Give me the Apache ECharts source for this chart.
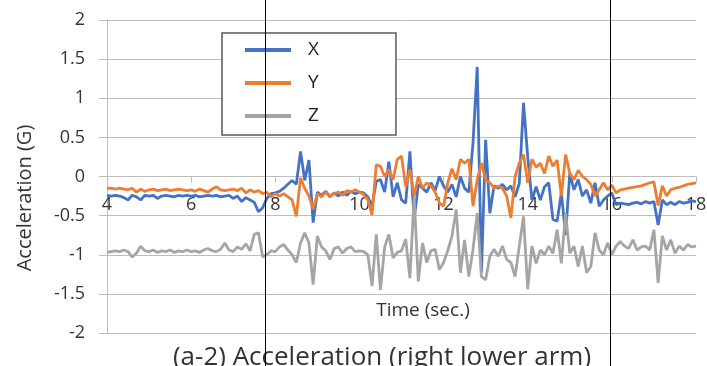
<!DOCTYPE html>
<html>
<head>
<meta charset="utf-8">
<script src="https://cdn.jsdelivr.net/npm/echarts/dist/echarts.min.js"></script>
<style>
  html, body { margin: 0; padding: 0; background: #fff; }
  #main { width: 707px; height: 366px; }
</style>
</head>
<body>
<div id="main"></div>
<script>
// sampling of the recording (sec.)
const t0 = 4;
const dt = 0.1;

const seriesNames = ['X', 'Y', 'Z'];
const seriesColors = ['#4472C4', '#ED7D31', '#A5A5A5'];

// acceleration (G), one value per 0.1 s from 4.0 to 18.0
const accX = [
  -0.24, -0.25, -0.24, -0.25, -0.27, -0.30, -0.24, -0.26, -0.30, -0.24,
  -0.25, -0.24, -0.28, -0.25, -0.24, -0.25, -0.26, -0.24, -0.25, -0.24,
  -0.25, -0.24, -0.26, -0.25, -0.24, -0.25, -0.24, -0.26, -0.25, -0.24,
  -0.28, -0.25, -0.32, -0.27, -0.30, -0.33, -0.45, -0.40, -0.28, -0.22,
  -0.21, -0.19, -0.15, -0.10, -0.05, -0.10, 0.32, -0.05, 0.21, -0.59,
  -0.20, -0.24, -0.19, -0.26, -0.21, -0.25, -0.20, -0.24, -0.19, -0.22,
  -0.20, -0.21, -0.26, -0.38, -0.06, -0.04, -0.20, 0.19, -0.26, -0.08,
  -0.30, -0.34, 0.32, -0.55, -0.10, -0.15, -0.20, -0.08, -0.18, 0.00,
  -0.12, -0.20, -0.10, -0.26, 0.00, -0.15, -0.20, 0.43, 1.40, -1.23,
  0.47, -0.47, -0.12, -0.15, -0.10, -0.17, -0.12, -0.26, -0.09, 0.94,
  0.25, -0.30, -0.13, -0.30, -0.13, -0.08, -0.55, -0.57, -0.21, -0.75,
  0.04, -0.17, -0.04, -0.25, -0.17, -0.34, -0.08, -0.38, -0.30, -0.25,
  -0.21, -0.36, -0.34, -0.35, -0.36, -0.34, -0.33, -0.35, -0.32, -0.34,
  -0.32, -0.62, -0.30, -0.36, -0.33, -0.36, -0.32, -0.34, -0.33, -0.31,
  -0.32
];
const accY = [
  -0.15, -0.15, -0.16, -0.15, -0.16, -0.17, -0.15, -0.20, -0.16, -0.19,
  -0.17, -0.16, -0.18, -0.17, -0.16, -0.18, -0.17, -0.16, -0.17, -0.18,
  -0.17, -0.19, -0.16, -0.18, -0.20, -0.16, -0.13, -0.17, -0.18, -0.17,
  -0.16, -0.18, -0.15, -0.21, -0.17, -0.20, -0.18, -0.22, -0.20, -0.26,
  -0.22, -0.25, -0.22, -0.26, -0.30, -0.51, -0.02, -0.15, -0.25, -0.42,
  -0.22, -0.26, -0.20, -0.25, -0.22, -0.20, -0.24, -0.18, -0.20, -0.17,
  -0.20, -0.23, -0.30, -0.49, 0.15, 0.13, 0.00, 0.09, -0.04, 0.22,
  0.26, -0.13, 0.09, -0.25, 0.00, -0.15, -0.08, -0.12, -0.20, -0.34,
  -0.38, -0.08, 0.10, -0.04, 0.22, 0.17, 0.22, -0.38, -0.04, 0.17,
  -0.04, -0.08, -0.15, -0.12, -0.15, -0.25, -0.53, 0.00, 0.17, 0.28,
  -0.08, 0.22, 0.12, 0.17, 0.04, 0.26, 0.13, 0.21, -0.25, 0.28,
  0.04, -0.04, 0.08, 0.00, -0.04, -0.10, -0.25, -0.17, -0.08, -0.17,
  -0.11, -0.21, -0.17, -0.16, -0.15, -0.14, -0.13, -0.12, -0.10, -0.08,
  -0.07, -0.37, -0.12, -0.25, -0.17, -0.15, -0.14, -0.12, -0.10, -0.09,
  -0.08
];
const accZ = [
  -0.97, -0.96, -0.95, -0.96, -0.94, -0.96, -1.03, -0.98, -0.89, -0.95,
  -0.96, -0.94, -0.97, -0.95, -0.96, -0.94, -0.97, -0.95, -0.96, -0.94,
  -0.96, -0.95, -0.97, -0.94, -0.92, -0.95, -0.96, -0.93, -0.85, -0.94,
  -0.96, -0.90, -0.93, -0.86, -0.95, -0.74, -0.72, -1.03, -1.00, -0.95,
  -0.96, -0.90, -0.87, -0.94, -1.00, -1.10, -0.85, -0.72, -0.85, -1.38,
  -0.76, -0.90, -0.95, -1.06, -0.92, -0.90, -0.98, -0.92, -0.90, -0.96,
  -0.95, -0.96, -1.00, -1.40, -0.74, -1.45, -0.90, -0.74, -1.04, -0.97,
  -0.95, -0.80, -1.30, -0.26, -1.34, -0.85, -1.10, -0.95, -0.93, -1.19,
  -1.10, -0.95, -0.76, -0.42, -1.23, -0.81, -1.28, -0.93, -0.47, -1.28,
  -1.32, -1.02, -0.93, -1.02, -0.89, -1.06, -1.10, -1.28, -0.89, -0.51,
  -1.44, -0.89, -1.11, -0.94, -1.00, -0.89, -0.98, -0.68, -1.11, -0.47,
  -0.98, -0.89, -1.15, -0.89, -1.23, -1.15, -0.72, -0.94, -1.00, -0.85,
  -1.00, -0.89, -0.83, -0.89, -0.92, -0.81, -0.94, -0.90, -0.89, -0.94,
  -0.68, -1.36, -0.76, -0.94, -0.81, -0.98, -0.89, -0.94, -0.87, -0.90,
  -0.89
];

// axis ranges
const xRange = [4, 18];
const xStep = 2;
const yRange = [-2, 2];
const yStep = 0.5;

// the two black cut lines drawn over the figure (sec.)
const markTimes = [7.75, 15.96];

const font = '"Open Sans", "Noto Sans", sans-serif';
const gridGray = '#bdbdbd';

const toPairs = (arr) => arr.map((v, i) => [+(t0 + i * dt).toFixed(2), v]);

const chart = echarts.init(document.getElementById('main'));

const option = {
  animation: false,
  textStyle: { fontFamily: font },
  grid: { left: 107, right: 11, top: 20, bottom: 33, outerBoundsMode: 'none' },
  legend: {
    orient: 'vertical',
    left: 222,
    top: 33,
    padding: [7, 77, 9, 23],
    itemGap: 13,
    itemWidth: 46,
    itemHeight: 4,
    icon: 'rect',
    backgroundColor: '#fff',
    borderColor: '#595959',
    borderWidth: 1.5,
    borderRadius: 0,
    textStyle: { fontFamily: font, fontSize: 19, lineHeight: 20, color: '#222', padding: [0, 0, 0, 12] },
    data: seriesNames
  },
  xAxis: {
    type: 'value',
    min: xRange[0],
    max: xRange[1],
    interval: xStep,
    axisLine: { onZero: false, lineStyle: { color: gridGray, width: 1 } },
    axisTick: { show: true, length: 6, lineStyle: { color: gridGray } },
    axisLabel: { margin: 19, fontSize: 18, color: '#333', fontFamily: font },
    splitLine: { show: false }
  },
  yAxis: {
    type: 'value',
    min: yRange[0],
    max: yRange[1],
    interval: yStep,
    axisLine: { show: true, onZero: false, lineStyle: { color: gridGray, width: 1 } },
    axisTick: { show: true, length: 8, lineStyle: { color: gridGray } },
    axisLabel: { margin: 22, fontSize: 18, color: '#333', fontFamily: font },
    splitLine: { show: true, lineStyle: { color: gridGray, width: 1 } }
  },
  series: [accX, accY, accZ].map((arr, i) => ({
    name: seriesNames[i],
    type: 'line',
    data: toPairs(arr),
    showSymbol: false,
    symbol: 'none',
    color: seriesColors[i],
    lineStyle: { width: 2.8, color: seriesColors[i] },
    emphasis: { disabled: true }
  }))
};

chart.setOption(option);

// move the time axis up so it crosses the value axis at 0
const bottomPx = chart.convertToPixel({ yAxisIndex: 0 }, yRange[0]);
const zeroPx = chart.convertToPixel({ yAxisIndex: 0 }, 0);

// texts and the full-height cut lines
const graphics = [
  {
    type: 'text', x: 25, y: 198, rotation: Math.PI / 2,
    style: { text: 'Acceleration (G)', align: 'center', verticalAlign: 'middle', fontSize: 20, fontFamily: font, fill: '#333' }
  },
  {
    type: 'text', x: 423, y: 311,
    style: { text: 'Time (sec.)', align: 'center', verticalAlign: 'middle', fontSize: 19, fontFamily: font, fill: '#333' }
  },
  {
    type: 'text', x: 382, y: 358,
    style: { text: '(a-2) Acceleration (right lower arm)', align: 'center', verticalAlign: 'middle', fontSize: 26, fontFamily: font, fill: '#333' }
  }
];
markTimes.forEach((t) => {
  const px = Math.round(chart.convertToPixel({ xAxisIndex: 0 }, t)) + 0.5;
  graphics.push({
    type: 'line', z: 100,
    shape: { x1: px, y1: 0, x2: px, y2: 366 },
    style: { stroke: '#000', lineWidth: 1 }
  });
});

chart.setOption({
  xAxis: { offset: zeroPx - bottomPx },
  graphic: graphics
});
</script>
</body>
</html>
